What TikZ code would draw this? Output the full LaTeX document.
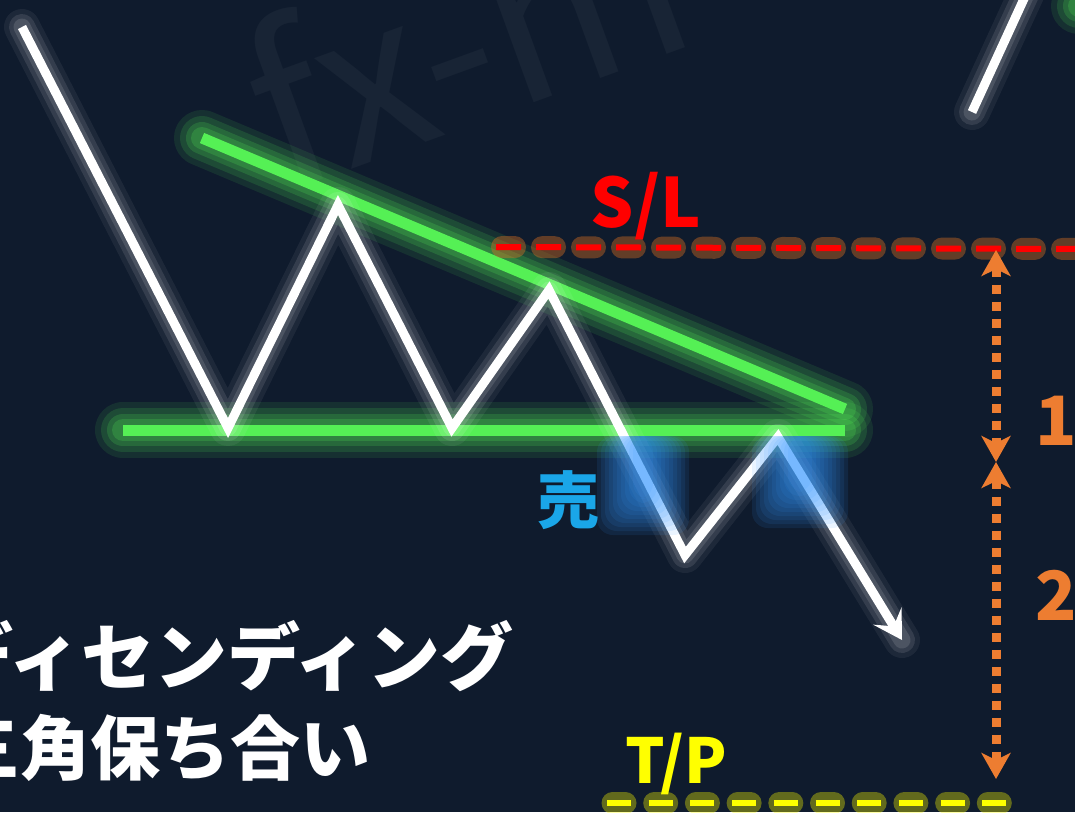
\documentclass[tikz,border=0pt]{standalone}
\usepackage{fontspec}
\newfontfamily\jpfont{Noto Sans CJK JP}
\usetikzlibrary{arrows.meta}
\definecolor{cnavy}{HTML}{0F1B2D}
\definecolor{cmark}{HTML}{182435}
\definecolor{cgreen}{HTML}{55F055}
\definecolor{cred}{HTML}{FF0000}
\definecolor{cbrown}{HTML}{E07020}
\definecolor{cyellow}{HTML}{FFFF00}
\definecolor{corange}{HTML}{ED7D31}
\definecolor{csell}{HTML}{1AA6E8}
\definecolor{cglow}{HTML}{3399FF}
\tikzset{
  every picture/.style={x=1pt, y=-1pt, line join=miter},
  trend/.style={draw=cgreen, line width=11pt,
    preaction={draw=cgreen, opacity=.10, line width=56pt, line cap=round},
    preaction={draw=cgreen, opacity=.14, line width=44pt, line cap=round},
    preaction={draw=cgreen, opacity=.18, line width=32pt, line cap=round},
    preaction={draw=cgreen, opacity=.20, line width=22pt, line cap=round}},
  price/.style={draw=white, line width=9pt,
    preaction={draw=white, opacity=.06, line width=36pt, line cap=round, line join=round, arrows=-},
    preaction={draw=white, opacity=.10, line width=26pt, line cap=round, line join=round, arrows=-},
    preaction={draw=white, opacity=.12, line width=17pt, line cap=round, line join=round, arrows=-}},
  stopline/.style={draw=cred, line width=6pt, dash pattern=on 25pt off 15pt,
    preaction={draw=cbrown, opacity=.4, line width=22pt, line cap=round,
      dash pattern=on 13pt off 27pt, dash phase=34pt}},
  takeline/.style={draw=cyellow, line width=6pt, dash pattern=on 24pt off 17.7pt,
    preaction={draw=cyellow, opacity=.35, line width=22pt, line cap=round,
      dash pattern=on 13pt off 28.7pt, dash phase=36.2pt}},
  span/.style={draw=corange, line width=9pt, dash pattern=on 9pt off 8pt,
    >={Stealth[length=26pt, width=29pt, inset=7pt]}, <->},
  tag/.style={font=\jpfont\bfseries\fontsize{68}{80}\selectfont, inner sep=0pt, anchor=base},
  title/.style={font=\jpfont\bfseries\fontsize{73}{88}\selectfont, text=white,
    inner sep=0pt, anchor=base west},
}

\begin{document}
\begin{tikzpicture}
  \fill[cnavy] (0,0) rectangle (1075,812);
  \useasboundingbox (0,0) rectangle (1075,812);
  \clip (0,0) rectangle (1075,812);

  \node[font=\jpfont\fontsize{215}{215}\selectfont, text=cmark, rotate=20,
    inner sep=0pt, anchor=base west] (mark) at (283,194) {fx-m};

  \coordinate (r0) at (202,138);
  \coordinate (r1) at (845,409);
  \coordinate (s0) at (123,430);
  \coordinate (s1) at (845,430);
  \coordinate (g0) at (1079,6);
  \coordinate (g1) at (1200,-40);
  \draw[trend] (r0) -- (r1);
  \draw[trend] (s0) -- (s1);
  \draw[trend] (g0) -- (g1);

  \coordinate (w0) at (22,27);
  \coordinate (w1) at (228,428);
  \coordinate (w2) at (338,205);
  \coordinate (w3) at (452,428);
  \coordinate (w4) at (549,290);
  \coordinate (w5) at (685,555);
  \coordinate (w6) at (778,437);
  \coordinate (w7) at (902,640);
  \draw[price, -{Stealth[length=28pt, width=33pt, inset=12pt]}]
    (w0) -- (w1) -- (w2) -- (w3) -- (w4) -- (w5) -- (w6) -- (w7);
  \coordinate (u0) at (972,112);
  \coordinate (u1) at (1028,-10);
  \draw[price] (u0) -- (u1);

  \foreach \d in {0,4,...,36} {
    \fill[cglow, opacity=.10, rounded corners=16pt] (597+\d,436) rectangle (689-\d,535-\d);
    \fill[cglow, opacity=.10, rounded corners=16pt] (752+\d,436) rectangle (848-\d,528-\d);
  }

  \coordinate (sl0) at (496,247);
  \coordinate (sl1) at (1080,249);
  \draw[stopline] (sl0) -- (sl1);
  \coordinate (tp0) at (607,803);
  \coordinate (tp1) at (1007,803);
  \draw[takeline] (tp0) -- (tp1);

  \coordinate (a0) at (996,250);
  \coordinate (a1) at (996,462);
  \coordinate (a2) at (996,779);
  \draw[span] (a0) -- (a1);
  \draw[span] (a1) -- (a2);

  \node[tag, text=cred] (sl) at (646,227) {S/L};
  \node[tag, text=cyellow, font=\jpfont\bfseries\fontsize{62}{74}\selectfont] (tp) at (676,783) {T/P};
  \node[tag, text=corange] (one) at (1056,445) {1};
  \node[tag, text=corange] (two) at (1056,620) {2};
  \node[tag, text=csell, font=\jpfont\bfseries\fontsize{62}{74}\selectfont] (sell) at (568,523) {売};

  \node[title] (name) at (-60,684) {ディセンディング};
  \node[title, font=\jpfont\bfseries\fontsize{70}{84}\selectfont] (kind) at (-50,774) {三角保ち合い};
\end{tikzpicture}
\end{document}
